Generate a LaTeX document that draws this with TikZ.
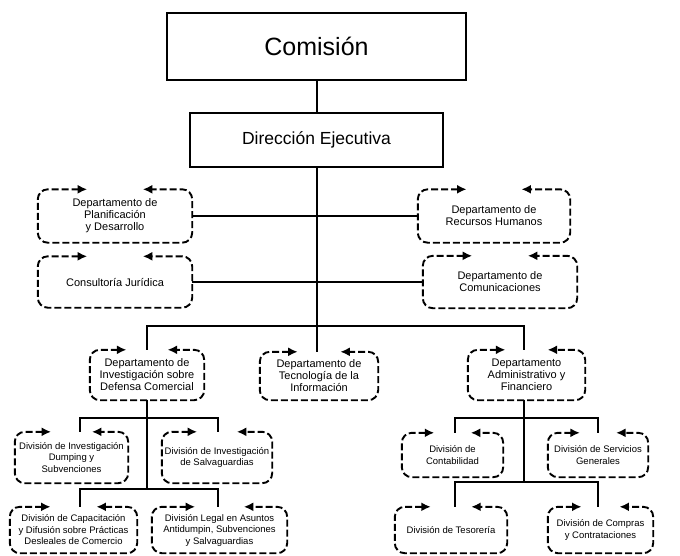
\documentclass[tikz,border=0pt]{standalone}
\usepackage{fontspec}
\setmainfont{Liberation Sans}
\usetikzlibrary{arrows.meta,calc}
\newcommand\dashframe[2][0.36]{%
  \draw[line width=1.9pt,dash pattern=on 7pt off 3pt,rounded corners=10pt,
        {Latex[length=9.5pt,width=9pt]}-{Latex[length=9.5pt,width=9pt]}]
   ($(#2.north)!#1!(#2.north west)$) -- (#2.north west) -- (#2.south west)
   -- (#2.south east) -- (#2.north east) -- ($(#2.north)!#1!(#2.north east)$);}
\begin{document}
\begin{tikzpicture}[x=1pt,y=-1pt,
  conn/.style={line width=2pt},
  solidbox/.style={draw,line width=2pt,rectangle,inner sep=0pt},
  dbox/.style={rectangle,inner sep=0pt,align=center,
    font=\fontsize{9.5}{11.5}\selectfont},
  bigbox/.style={dbox,font=\fontsize{11}{12}\selectfont}]
\useasboundingbox (0,0) rectangle (680,555);
\fill[white] (0,0) rectangle (680,555);

% top boxes
\node[solidbox,minimum width=299pt,minimum height=67pt,
  font=\fontsize{25}{30}\selectfont] (com) at (316.5,46.5) {Comisión};
\node[solidbox,minimum width=253pt,minimum height=54pt,
  font=\fontsize{17.5}{21}\selectfont] (dir) at (316.5,140) {Dirección Ejecutiva};

% staff boxes
\node[bigbox,minimum width=154pt,minimum height=53pt] (plan) at (115,216) {Departamento de\\Planificación\\y Desarrollo};
\node[bigbox,minimum width=154pt,minimum height=51pt] (cons) at (115,282) {Consultoría Jurídica};
\node[bigbox,minimum width=152pt,minimum height=53pt] (rrhh) at (494,216) {Departamento de\\Recursos Humanos};
\node[bigbox,minimum width=154pt,minimum height=52pt] (comu) at (500,282) {Departamento de\\Comunicaciones};

% departments
\node[bigbox,minimum width=114pt,minimum height=50pt] (dcom) at (147,375) {Departamento de\\Investigación sobre\\Defensa Comercial};
\node[bigbox,minimum width=118pt,minimum height=48pt] (tec) at (319,376) {Departamento de\\Tecnología de la\\Información};
\node[bigbox,minimum width=117pt,minimum height=50pt] (adm) at (526.5,375) {Departamento\\Administrativo y\\Financiero};

% divisions left
\node[dbox,minimum width=113pt,minimum height=51pt] (dump) at (71.5,457.5) {División de Investigación\\Dumping y\\Subvenciones};
\node[dbox,minimum width=110pt,minimum height=51pt] (salv) at (217,457.5) {División de Investigación\\de Salvaguardias};
\node[dbox,minimum width=127pt,minimum height=46pt] (capa) at (73.5,530) {División de Capacitación\\y Difusión sobre Prácticas\\Desleales de Comercio};
\node[dbox,minimum width=135pt,minimum height=46pt] (legal) at (219.5,530) {División Legal en Asuntos\\Antidumpin, Subvenciones\\y Salvaguardias};

% divisions right
\node[dbox,minimum width=101pt,minimum height=44pt] (cont) at (452.5,455) {División de\\Contabilidad};
\node[dbox,minimum width=100pt,minimum height=44pt] (serv) at (598,455) {División de Servicios\\Generales};
\node[dbox,minimum width=112pt,minimum height=46pt] (teso) at (451,530) {División de Tesorería};
\node[dbox,minimum width=105pt,minimum height=46pt] (comp) at (600.5,530) {División de Compras\\y Contrataciones};

% dashed frames
\foreach \n in {plan,cons,rrhh,comu,dcom,tec,adm,dump,salv,capa,legal,cont,serv,teso,comp}{\dashframe{\n}}

% coordinates for buses
\coordinate (busC) at (316.5,326);
\coordinate (lb1) at (147,418);
\coordinate (lb2) at (147,489);
\coordinate (lx) at (80,0);
\coordinate (rx) at (218,0);
\coordinate (rb1) at (524,418);
\coordinate (rb2) at (524,482);
\coordinate (rlx) at (455,0);
\coordinate (rrx) at (597.5,0);

% connectors
\draw[conn] (com.south) -- (dir.north);
\draw[conn] (dir.south) -- (busC);
\draw[conn] (plan.east) -- (rrhh.west);
\draw[conn] (cons.east) -- (comu.west);
\draw[conn] (dcom.north) -- (dcom.north |- busC) -- (rb1 |- busC) -- (rb1 |- adm.north);
\draw[conn] (busC) -- (busC |- tec.north);

\draw[conn] (dcom.south) -- (lb2);
\draw[conn] (lx |- dump.north) -- (lx |- lb1) -- (rx |- lb1) -- (rx |- salv.north);
\draw[conn] (lx |- capa.north) -- (lx |- lb2) -- (rx |- lb2) -- (rx |- legal.north);

\draw[conn] (rb1 |- adm.south) -- (rb2);
\draw[conn] (rlx |- cont.north) -- (rlx |- rb1) -- (rrx |- rb1) -- (rrx |- serv.north);
\draw[conn] (rlx |- teso.north) -- (rlx |- rb2) -- (rrx |- rb2) -- (rrx |- comp.north);
\end{tikzpicture}
\end{document}
